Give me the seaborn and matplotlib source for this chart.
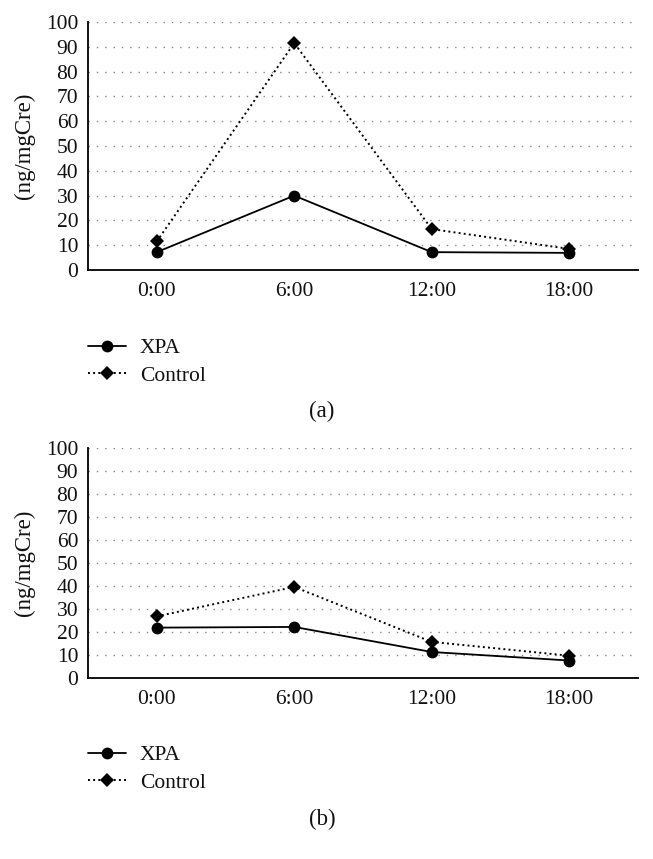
import matplotlib
matplotlib.use("Agg")
import matplotlib.pyplot as plt
import seaborn as sns
import pandas as pd

times = ["0:00", "6:00", "12:00", "18:00"]
xpa_a = [7.2, 30.0, 7.2, 6.9]
control_a = [11.5, 91.5, 16.5, 8.5]
xpa_b = [21.9, 22.2, 11.3, 7.6]
control_b = [26.8, 39.6, 15.7, 9.7]
yticks = list(range(0, 101, 10))
ylabel = "(ng/mgCre)"
panel_labels = ["(a)", "(b)"]

sns.set_theme(style="white")
plt.rcParams["font.family"] = ["Liberation Serif", "DejaVu Serif"]
plt.rcParams["text.color"] = "#222222"

W, H = 653, 859
fig = plt.figure(figsize=(W / 100, H / 100), dpi=100)

panels = [
    (xpa_a, control_a, 22, 270, 349, 411),
    (xpa_b, control_b, 448, 678, 756, 819),
]

for i, (xpa, ctrl, ytop, ybot, leg_y, lab_y) in enumerate(panels):
    left, right = 88, 638
    ax = fig.add_axes([left / W, 1 - ybot / H, (right - left) / W, (ybot - ytop) / H])
    df_x = pd.DataFrame({"time": times, "value": xpa})
    df_c = pd.DataFrame({"time": times, "value": ctrl})
    sns.lineplot(data=df_x, x="time", y="value", ax=ax, color="black",
                 linewidth=1.3, marker="o", markersize=8.5, markeredgewidth=0,
                 label="XPA", sort=False)
    sns.lineplot(data=df_c, x="time", y="value", ax=ax, color="black",
                 linewidth=1.4, linestyle=":", marker="D", markersize=7,
                 markeredgewidth=0, label="Control", sort=False)
    ax.set_xlim(-0.5, 3.5)
    ax.set_ylim(0, 100)
    ax.set_yticks(yticks)
    ax.yaxis.grid(True, color="#888888", linestyle=(0, (1, 5)), linewidth=1.0)
    ax.xaxis.grid(False)
    for s in ["top", "right"]:
        ax.spines[s].set_visible(False)
    for s in ["left", "bottom"]:
        ax.spines[s].set_color("black")
        ax.spines[s].set_linewidth(1.3)
    ax.tick_params(axis="both", length=0, labelsize=15.5, colors="#111111")
    ax.tick_params(axis="y", pad=7)
    ax.tick_params(axis="x", pad=9)
    ax.set_xlabel("")
    ax.set_ylabel(ylabel, fontsize=16.5, color="#111111")
    ax.yaxis.set_label_coords((35 - left) / (right - left), 0.5)
    ax.set_facecolor("white")
    leg_top = (ybot - (leg_y - 11)) / (ybot - ytop)
    ax.legend(loc="upper left", bbox_to_anchor=(0.0, leg_top), frameon=False,
              borderaxespad=0, borderpad=0, fontsize=15.5, handlelength=1.75,
              handletextpad=0.65, labelspacing=0.35, labelcolor="#111111")
    fig.text(322 / W, 1 - lab_y / H, panel_labels[i], fontsize=16.5,
             ha="center", va="center", color="#111111")

fig.savefig("out.png", dpi=100, facecolor="white")
